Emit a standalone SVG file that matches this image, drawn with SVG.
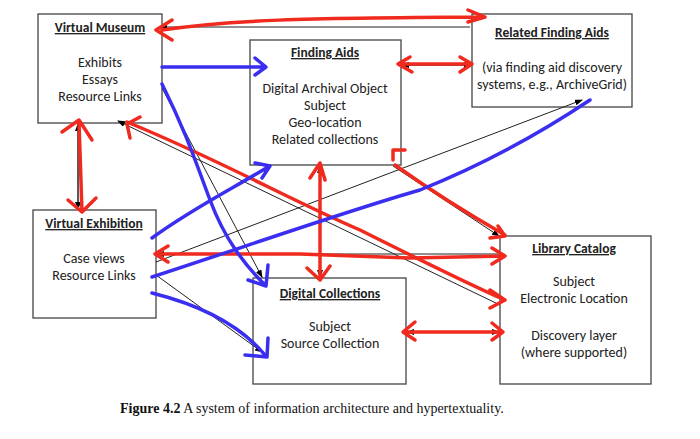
<svg xmlns="http://www.w3.org/2000/svg" width="700" height="439" viewBox="0 0 700 439">
<defs>
<marker id="ah" markerWidth="8" markerHeight="6" refX="7" refY="3" orient="auto" markerUnits="userSpaceOnUse"><path d="M0,0 L8,3 L0,6 z" fill="#000"/></marker>
</defs>
<style>
.box{fill:#fff;stroke:#444;stroke-width:1.3}
.t{font-family:Carlito,"Liberation Sans",sans-serif;font-size:14px;fill:#222;text-anchor:middle}
.h{font-weight:bold;text-decoration:underline;font-size:13.5px}
.thin{fill:none;stroke:#222;stroke-width:1;marker-end:url(#ah)}
.r{fill:none;stroke:#f02a1e;stroke-width:3.5;stroke-linecap:round;stroke-linejoin:round}
.b{fill:none;stroke:#3a2ef0;stroke-width:3.5;stroke-linecap:round;stroke-linejoin:round}
</style>
<rect width="700" height="439" fill="#fff"/>
<g id="vm"><rect class="box" x="38" y="14" width="124" height="109"/>
<text class="t h" x="100" y="32">Virtual Museum</text>
<text class="t" x="100" y="67">Exhibits</text><text class="t" x="100" y="84">Essays</text><text class="t" x="100" y="101">Resource Links</text></g>
<g id="fa"><rect class="box" x="250" y="40" width="151" height="125"/>
<text class="t h" x="325" y="57">Finding Aids</text>
<text class="t" x="325" y="93">Digital Archival Object</text><text class="t" x="325" y="110">Subject</text><text class="t" x="325" y="127">Geo-location</text><text class="t" x="325" y="144">Related collections</text></g>
<g id="rfa"><rect class="box" x="472" y="14" width="160" height="93"/>
<text class="t h" x="552" y="37">Related Finding Aids</text>
<text class="t" x="552" y="72">(via finding aid discovery</text><text class="t" x="552" y="89">systems, e.g., ArchiveGrid)</text></g>
<g id="ve"><rect class="box" x="33" y="210" width="123" height="108"/>
<text class="t h" x="94" y="228">Virtual Exhibition</text>
<text class="t" x="94" y="263">Case views</text><text class="t" x="94" y="280">Resource Links</text></g>
<g id="dc"><rect class="box" x="253" y="278" width="153" height="106"/>
<text class="t h" x="330" y="298">Digital Collections</text>
<text class="t" x="330" y="331">Subject</text><text class="t" x="330" y="348">Source Collection</text></g>
<g id="lc"><rect class="box" x="500" y="236" width="151" height="148"/>
<text class="t h" x="574" y="253">Library Catalog</text>
<text class="t" x="574" y="286">Subject</text><text class="t" x="574" y="303">Electronic Location</text>
<text class="t" x="574" y="340">Discovery layer</text><text class="t" x="574" y="357">(where supported)</text></g>
<g id="connectors">
<path class="thin" d="M470,27 L160,27"/>
<path class="thin" d="M78,208 L78,124"/>
<path class="thin" d="M78,125 L78,209"/>
<path class="thin" d="M470,65 L402,65"/>
<path class="thin" d="M403,65 L471,65"/>
<path class="thin" d="M320,277 L320,166"/>
<path class="thin" d="M320,166 L320,277"/>
<path class="thin" d="M393,166 L499,236"/>
<path class="thin" d="M162,88 L262,277"/>
<path class="thin" d="M500,305 L118,121"/>
<path class="thin" d="M156,262 L582,100"/>
<path class="thin" d="M156,275 L262,352"/>
<path class="thin" d="M500,254 L157,254"/>
<path class="thin" d="M500,332 L407,332"/>
<path class="thin" d="M407,332 L499,332"/>
<path class="r" d="M162,30 C230,20 300,18 480,17 M172,20 L156,30 L172,40 M468,10 L485,17 L468,22"/>
<path class="r" d="M79,122 L82,212 M62,132 L79,120 L92,140 M68,200 L82,212 L96,198"/>
<path class="r" d="M400,64 L470,64 M410,57 L398,64 L412,72 M460,57 L472,64 L460,72"/>
<path class="r" d="M320,163 L320,278 M310,178 L320,163 L325,180 M307,268 L320,280 L330,266"/>
<path class="r" d="M395,165 C430,190 470,215 505,235 M393,160 L393,150 L405,150 M490,238 L505,236 L498,226"/>
<path class="r" d="M127,122 C220,160 290,200 360,230 C420,260 470,285 505,300 M140,117 L127,124 L130,138 M490,290 L505,300 L490,308"/>
<path class="r" d="M155,254 L300,254 L410,258 L505,256 M168,246 L155,254 L168,262 M492,248 L505,256 L492,264"/>
<path class="r" d="M405,332 L503,332 M415,322 L403,332 L415,340 M492,323 L503,332 L492,340"/>
<path class="b" d="M162,67 L265,67 M255,58 L266,67 L255,75"/>
<path class="b" d="M162,84 C185,130 195,160 210,200 C225,240 245,265 265,285 M268,265 L266,286 L248,280"/>
<path class="b" d="M152,238 C190,210 230,190 268,167 M255,163 L270,166 L262,178"/>
<path class="b" d="M152,277 C250,245 350,210 420,190 C470,170 530,140 590,100"/>
<path class="b" d="M152,293 C200,305 240,325 265,355 M245,355 L267,357 L268,338"/>
</g>
<text x="120" y="413" style="font-family:'Liberation Serif',serif;font-size:14px;fill:#111"><tspan font-weight="bold">Figure 4.2</tspan>  A system of information architecture and hypertextuality.</text>
</svg>
